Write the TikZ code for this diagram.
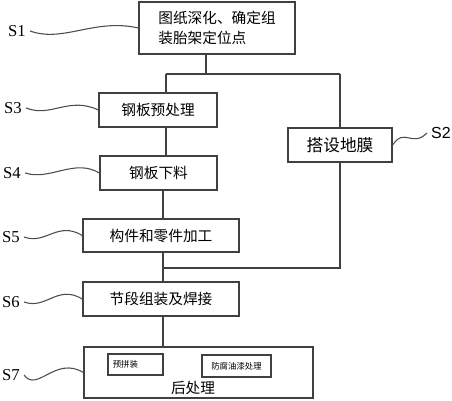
\documentclass[tikz,border=0pt]{standalone}
\usepackage{fontspec}
\setmainfont{Liberation Serif}
\newfontfamily\cjk{Noto Sans CJK SC}
\newfontfamily\sansS{Liberation Sans}
\def\px{0.75pt}
\tikzset{
	kasten/.style={draw=black!75,line width=0.9pt,inner sep=0pt,
		font=\cjk\fontsize{11}{15}\selectfont},
	klein/.style={draw=black!75,line width=0.8pt,inner sep=0pt,
		font=\cjk\fontsize{6.3}{8}\selectfont},
	marke/.style={inner xsep=3pt,inner ysep=1pt,font=\fontsize{12.5}{14}\selectfont},
	linie/.style={draw=black!75,line width=0.8pt},
	welle/.style={draw=black!70,line width=0.8pt},
}
\begin{document}
\begin{tikzpicture}[x=\px,y=-\px]
\useasboundingbox (0,0) rectangle (452,400);
% Kaesten
\node[kasten,minimum width=156*\px,minimum height=52*\px,align=left] (S1) at (217,28)
	{图纸深化、确定组\\装胎架定位点};
\node[kasten,minimum width=118*\px,minimum height=34*\px] (S3) at (158,110) {钢板预处理};
\node[kasten,minimum width=117*\px,minimum height=34*\px] (S4) at (158.5,173) {钢板下料};
\node[kasten,minimum width=156*\px,minimum height=33*\px] (S5) at (161,235.5) {构件和零件加工};
\node[kasten,minimum width=156*\px,minimum height=34*\px] (S6) at (161,299) {节段组装及焊接};
\node[kasten,minimum width=229*\px,minimum height=51*\px] (S7) at (198.5,372.5) {};
\node[kasten,minimum width=104*\px,minimum height=34*\px,font=\cjk\fontsize{12.5}{15}\selectfont]
	(S2) at (340,145) {搭设地膜};
\node[klein,minimum width=55*\px,minimum height=21*\px,text width=34pt,align=left]
	(pin) at (135.5,364.5) {预拼装};
\node[klein,minimum width=69*\px,minimum height=22*\px] (fang) at (236.5,366) {防腐油漆处理};
\node[font=\cjk\fontsize{11}{13}\selectfont,inner sep=0pt] (hou) at (193,388) {后处理};
% Marken
\node[marke] (lS1) at (17,31) {S1};
\node[marke] (lS3) at (13,108) {S3};
\node[marke] (lS4) at (12,173) {S4};
\node[marke] (lS5) at (11,237) {S5};
\node[marke] (lS6) at (11,302) {S6};
\node[marke] (lS7) at (11,375) {S7};
\node[marke,font=\sansS\fontsize{12}{14}\selectfont] (lS2) at (441,133) {S2};
% Verbindungen
\coordinate (a) at (166,74);
\coordinate (b) at (340,74);
\coordinate (c) at (163,268);
\draw[linie] (S1.south -| 206,0) -- (206,74);
\draw[linie] (a) -- (b);
\draw[linie] (a) -- (a |- S3.north);
\draw[linie] (b) -- (S2.north);
\draw[linie] (S3.south -| a) -- (S4.north -| a);
\draw[linie] (S4.south -| c) -- (S5.north -| c);
\draw[linie] (S5.south -| c) -- (S6.north -| c);
\draw[linie] (S2.south) |- (c);
\draw[linie] (S6.south -| c) -- (S7.north -| c);
% Wellen
\draw[welle] (lS1.east) .. controls +(33,12) and +(-44,-10) .. (S1.west);
\draw[welle] (lS3.east) .. controls +(25,10) and +(-30,-14) .. (S3.west);
\draw[welle] (lS4.east) .. controls +(25,8) and +(-25,-15) .. (S4.west);
\draw[welle] (lS5.east) .. controls +(22,8) and +(-25,-15) .. (S5.west);
\draw[welle] (lS6.east) .. controls +(22,8) and +(-25,-15) .. (S6.west);
\draw[welle] (lS7.east) .. controls +(13,18) and +(-28,-17) .. (S7.west);
\draw[welle] (S2.east) .. controls +(12,-18) and +(-15,15) .. (lS2.west);
\end{tikzpicture}
\end{document}
